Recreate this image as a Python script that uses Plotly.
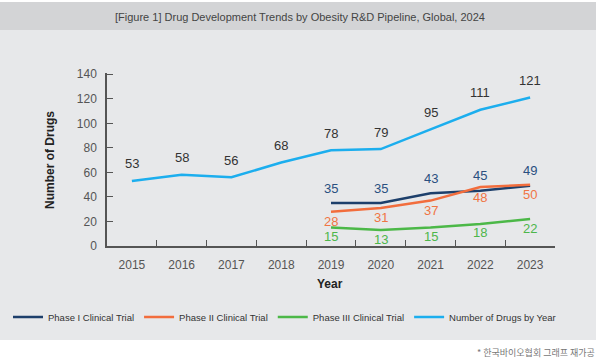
import plotly.graph_objects as go

years = ["2015", "2016", "2017", "2018", "2019", "2020", "2021", "2022", "2023"]
total = [53, 58, 56, 68, 78, 79, 95, 111, 121]
phase_years = ["2019", "2020", "2021", "2022", "2023"]
phase1 = [35, 35, 43, 45, 49]
phase2 = [28, 31, 37, 48, 50]
phase3 = [15, 13, 15, 18, 22]
y_ticks = [0, 20, 40, 60, 80, 100, 120, 140]

C1 = "#1d3f6b"
C2 = "#f26d3d"
C3 = "#4cb848"
C4 = "#1caeee"

FONT = "Liberation Sans, Arial, sans-serif"

W, H = 600, 359
L, R, T, B = 107, 45, 73, 113
pw, ph = W - L - R, H - T - B


def px(xp):
    return (xp - L) / pw


def py(yp):
    return (H - B - yp) / ph


fig = go.Figure()
series = [
    ("Phase I Clinical Trial", phase_years, phase1, C1),
    ("Phase II Clinical Trial", phase_years, phase2, C2),
    ("Phase III Clinical Trial", phase_years, phase3, C3),
    ("Number of Drugs by Year", years, total, C4),
]
for name, xs, ys, col in series:
    fig.add_trace(go.Scatter(x=xs, y=ys, mode="lines", name=name,
                             line=dict(color=col, width=2.5), hoverinfo="skip"))

annotations = []


def add_labels(xs, ys, color, shift):
    for x, y in zip(xs, ys):
        annotations.append(dict(x=years.index(x), y=y, xref="x", yref="y", text=str(y),
                                showarrow=False, yshift=shift,
                                font=dict(family=FONT, size=13, color=color)))


add_labels(years, total, "#333333", 17)
add_labels(phase_years, phase1, "#2a4f80", 15)
add_labels(phase_years, phase2, "#f07545", -10)
add_labels(phase_years, phase3, "#4db64b", -9)


def paper_text(x, y, text, font, xanchor="center", angle=0):
    annotations.append(dict(x=px(x), y=py(y), xref="paper", yref="paper", text=text,
                            showarrow=False, textangle=angle, xanchor=xanchor, yanchor="middle",
                            font=font))


paper_text(50, 160, "<b>Number of Drugs</b>", dict(family=FONT, size=12, color="#222"), angle=-90)
paper_text(330, 284, "<b>Year</b>", dict(family=FONT, size=12, color="#222"))
paper_text(300, 16.5, "[Figure 1] Drug Development Trends by Obesity R&D Pipeline, Global, 2024",
           dict(family=FONT, size=11, color="#444"))
paper_text(597, 352, "* 한국바이오협회 그래프 재가공",
           dict(family="Noto Sans CJK KR", size=9, color="#777"), xanchor="right")

shapes = [
    dict(type="rect", xref="paper", yref="paper", x0=px(0), x1=px(596), y0=py(2), y1=py(30),
         fillcolor="#d3d4d6", line_width=0, layer="below"),
    dict(type="rect", xref="paper", yref="paper", x0=px(0), x1=px(596), y0=py(30), y1=py(340),
         fillcolor="#e7e8ea", line_width=0, layer="below"),
]

fig.update_xaxes(type="category", categoryorder="array", categoryarray=years,
                 range=[-0.5, 8.5], tickson="boundaries", ticks="inside", ticklen=6,
                 tickcolor="#555", showline=True, linecolor="#555", linewidth=1.5,
                 showgrid=False, zeroline=False, ticklabelstandoff=7,
                 tickfont=dict(family=FONT, size=12, color="#555"))
fig.update_yaxes(range=[0, 141], tickvals=y_ticks, ticks="inside", ticklen=6,
                 tickcolor="#555", showline=True, linecolor="#555", linewidth=1.5,
                 showgrid=False, zeroline=False, ticklabelstandoff=6,
                 tickfont=dict(family=FONT, size=12, color="#555"))

fig.update_layout(
    width=W, height=H,
    margin=dict(l=L, r=R, t=T, b=B, pad=0, autoexpand=False),
    paper_bgcolor="white", plot_bgcolor="rgba(0,0,0,0)",
    showlegend=True,
    annotations=annotations,
    shapes=shapes,
    legend=dict(orientation="h", x=px(8), y=py(317), xanchor="left", yanchor="middle",
                bgcolor="rgba(0,0,0,0)", font=dict(family=FONT, size=9.5, color="#333"),
                itemwidth=30, tracegroupgap=0),
)

fig.write_html("out.html", config={"displayModeBar": False},
               post_script="document.body.style.margin='0';document.body.style.overflow='hidden';")
